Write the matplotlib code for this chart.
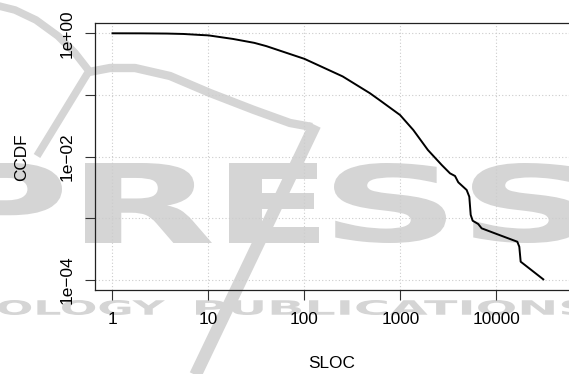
import matplotlib
matplotlib.use('Agg')
import matplotlib.pyplot as plt
from matplotlib.ticker import FixedLocator, FixedFormatter, NullLocator
from matplotlib.textpath import TextPath
from matplotlib.patches import PathPatch
from matplotlib.font_manager import FontProperties
from matplotlib.transforms import Affine2D

plt.rcParams['font.family'] = ['Liberation Sans', 'DejaVu Sans']

# complementary CDF of source lines of code
sloc = [1, 2, 3.7, 5.5, 8.2, 10, 18, 30, 40, 100, 250, 480, 610, 990, 1360,
        1930, 2690, 3280, 3700, 4000, 4890, 5210, 5390, 5650, 6460, 7010,
        10050, 16490, 17290, 17870, 30740]
ccdf = [1.0, 0.998, 0.99, 0.975, 0.94, 0.925, 0.81, 0.70, 0.62, 0.385, 0.20,
        0.107, 0.082, 0.0474, 0.0271, 0.01285, 0.00734, 0.00538, 0.00487,
        0.00385, 0.00289, 0.00225, 0.00114, 0.000918, 0.000811, 0.000691,
        0.000559, 0.000419, 0.000348, 0.000199, 0.000103]

x_ticks = [1, 10, 100, 1000, 10000]
x_labels = ['1', '10', '100', '1000', '10000']
y_ticks = [1, 1e-1, 1e-2, 1e-3, 1e-4]
y_labels = ['1e+00', '', '1e\u221202', '', '1e\u221204']

W, H = 569, 374
GRAY = '#d5d5d5'


def stretched_text(ax, s, x0, x1, ytop, ybot):
    # fit a text outline into a box given in pixel units
    tp = TextPath((0, 0), s, size=100,
                  prop=FontProperties(family='DejaVu Sans', weight='bold'))
    bb = tp.get_extents()
    tr = (Affine2D().translate(-bb.x0, -bb.y0)
          .scale((x1 - x0) / bb.width, -(ybot - ytop) / bb.height)
          .translate(x0, ybot))
    ax.add_patch(PathPatch(tr.transform_path(tp), facecolor=GRAY,
                           edgecolor='none'))


fig = plt.figure(figsize=(W / 100, H / 100), dpi=100)

# publisher mark behind the plot
bg = fig.add_axes([0, 0, 1, 1], zorder=0)
bg.set_xlim(0, W)
bg.set_ylim(H, 0)
bg.axis('off')
bg.plot([-5, 15, 36, 58, 75, 89, 37], [5, 10, 20, 36, 53, 71, 156],
        color=GRAY, lw=5.5, solid_joinstyle='miter', solid_capstyle='butt')
bg.plot([89, 110, 135, 170, 210, 254, 290, 312],
        [72, 68, 68, 76, 93, 110, 123, 127],
        color=GRAY, lw=6, solid_capstyle='butt')
bg.plot([315, 195], [125, 376], color=GRAY, lw=9, solid_capstyle='butt')
for ch, x0, x1 in [('P', -45, 62), ('R', 85, 212), ('E', 229, 319),
                   ('S', 334, 446), ('S', 472, 584)]:
    stretched_text(bg, ch, x0, x1, 163, 243)
stretched_text(bg, 'OLOGY', -2, 165, 300, 315)
stretched_text(bg, 'PUBLICATIONS', 196, 590, 300, 315)

ax = fig.add_axes([95 / W, 1 - 290 / H, 475 / W, 266.7 / H], zorder=1)
ax.set_facecolor('none')
ax.plot(sloc, ccdf, color='black', lw=1.4, zorder=3)

ax.set_xscale('log')
ax.set_yscale('log')
ax.set_xlim(10 ** -0.1823, 10 ** 4.766)
ax.set_ylim(10 ** -4.160, 10 ** 0.162)

ax.xaxis.set_major_locator(FixedLocator(x_ticks))
ax.xaxis.set_major_formatter(FixedFormatter(x_labels))
ax.xaxis.set_minor_locator(NullLocator())
ax.yaxis.set_major_locator(FixedLocator(y_ticks))
ax.yaxis.set_major_formatter(FixedFormatter(y_labels))
ax.yaxis.set_minor_locator(NullLocator())

ax.grid(True, color='#cccccc', linestyle=(0, (1, 2)), linewidth=0.8)
ax.set_axisbelow(True)

ax.tick_params(direction='out', length=7.2, width=0.8, color='#333333',
               labelsize=12.4)
ax.tick_params(axis='x', pad=9)
ax.tick_params(axis='y', pad=7.5, labelrotation=90)
for lbl in ax.get_yticklabels():
    lbl.set_va('center')

for side in ['left', 'bottom', 'top']:
    ax.spines[side].set_color('#222222')
    ax.spines[side].set_linewidth(0.9)
ax.spines['right'].set_visible(False)

fig.text(22 / W, 1 - 157 / H, 'CCDF', rotation=90, ha='center', va='center',
         fontsize=12.4)
fig.text(332 / W, 1 - 363.5 / H, 'SLOC', ha='center', va='center',
         fontsize=12.4)

fig.savefig('out.png', dpi=100)
